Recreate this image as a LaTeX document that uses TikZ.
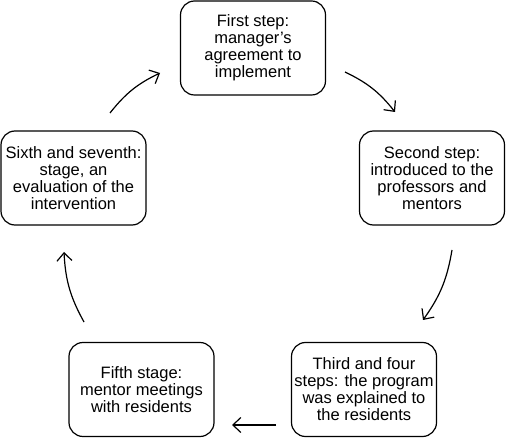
\documentclass[tikz,border=0pt]{standalone}
\usepackage{fontspec}
\setmainfont{Liberation Sans}
\usetikzlibrary{arrows.meta}
\begin{document}
\begin{tikzpicture}[x=1pt,y=-1pt,
  stepbox/.style={draw, line width=1.2pt, rounded corners=14pt, minimum width=145pt, minimum height=94pt, align=center, font=\fontsize{16.5}{17}\selectfont, inner sep=0pt},
  flow/.style={line width=1.2pt, -{Straight Barb[length=8pt,width=15pt,line width=1.2pt]}, bend left=13}]
\useasboundingbox (0,0) rectangle (506,438);
\node[stepbox] (s1) at (253,48) {First step:\\manager’s\\agreement to\\implement};
\node[stepbox] (s2) at (432,178) {Second step:\\introduced to the\\professors and\\mentors};
\node[stepbox] (s3) at (364,389.5) {Third and four\\steps: the program\\was explained to\\the residents};
\node[stepbox] (s5) at (141.5,389.5) {Fifth stage:\\mentor meetings\\with residents};
\node[stepbox] (s6) at (73.5,178) {Sixth and seventh:\\stage, an\\evaluation of the\\intervention};
\coordinate (a1s) at (345,72); \coordinate (a1e) at (395,112);
\coordinate (a2s) at (452,250); \coordinate (a2e) at (423,320);
\coordinate (a3s) at (276,425); \coordinate (a3e) at (232,425);
\coordinate (a4s) at (84,322); \coordinate (a4e) at (64,252);
\coordinate (a5s) at (110,113); \coordinate (a5e) at (160,73);
\draw[flow] (a1s) to (a1e);
\draw[flow] (a2s) to (a2e);
\draw[flow, bend left=0] (a3s) to (a3e);
\draw[flow] (a4s) to (a4e);
\draw[flow] (a5s) to (a5e);
\end{tikzpicture}
\end{document}
